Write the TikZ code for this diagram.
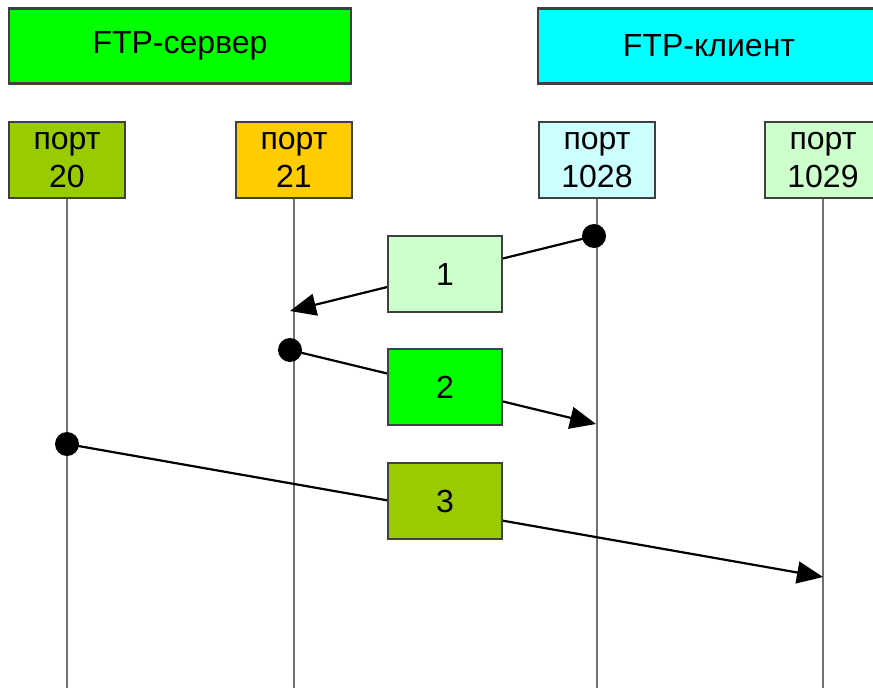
\documentclass[tikz,border=0pt]{standalone}
\usepackage{fontspec}
\setmainfont{Liberation Sans}
\usetikzlibrary{arrows.meta}
\definecolor{srvgreen}{HTML}{00FF00}
\definecolor{cliCyan}{HTML}{00FFFF}
\definecolor{olive}{HTML}{99CC00}
\definecolor{gold}{HTML}{FFCC00}
\definecolor{lcyan}{HTML}{CCFFFF}
\definecolor{lgreen}{HTML}{CCFFCC}
\definecolor{edge}{HTML}{404040}
\definecolor{life}{HTML}{707070}
\tikzset{
  boxbase/.style={draw=edge, line width=2.2pt, inner sep=0pt, align=center,
    font=\fontsize{32}{38}\selectfont},
  titlebox/.style={boxbase, minimum width=342pt, minimum height=75pt},
  portbox/.style={boxbase, minimum width=116pt, minimum height=76pt},
  msgbox/.style={boxbase, minimum width=114pt, minimum height=76pt},
  lifeline/.style={draw=life, line width=2.3pt},
  msg/.style={draw=black, line width=2.2pt, -{Triangle[length=26pt,width=22pt]}},
  dotmark/.style={fill=black}
}
\begin{document}
\begin{tikzpicture}[x=1pt,y=-1pt]
\useasboundingbox (0,0) rectangle (873,688);
\clip (0,0) rectangle (873,688);
\fill[white] (0,0) rectangle (873,688);
% title boxes
\node[titlebox, fill=srvgreen] (srv) at (180,46) {FTP-сервер};
\node[titlebox, fill=cliCyan] (cli) at (709,46) {FTP-клиент};
% ports
\node[portbox, fill=olive] (p20) at (67,160) {порт\\20};
\node[portbox, fill=gold] (p21) at (294,160) {порт\\21};
\node[portbox, fill=lcyan] (p1028) at (597,160) {порт\\1028};
\node[portbox, fill=lgreen] (p1029) at (823,160) {порт\\1029};
% lifeline ends
\coordinate (e20) at (67,690);
\coordinate (e21) at (294,690);
\coordinate (e1028) at (597,690);
\coordinate (e1029) at (823,690);
\draw[lifeline] (p20.south) -- (e20);
\draw[lifeline] (p21.south) -- (e21);
\draw[lifeline] (p1028.south) -- (e1028);
\draw[lifeline] (p1029.south) -- (e1029);
% message end points
\coordinate (s1) at (594,236);
\coordinate (t1) at (290,311);
\coordinate (s2) at (290,350);
\coordinate (t2) at (596,424);
\coordinate (s3) at (67,444);
\coordinate (t3) at (823,577);
\draw[msg] (s1) -- (t1);
\draw[msg] (s2) -- (t2);
\draw[msg] (s3) -- (t3);
\fill[dotmark] (s1) circle (12pt);
\fill[dotmark] (s2) circle (12pt);
\fill[dotmark] (s3) circle (12pt);
% message boxes
\node[msgbox, fill=lgreen] (m1) at (445,274) {1};
\node[msgbox, fill=srvgreen] (m2) at (445,387) {2};
\node[msgbox, fill=olive] (m3) at (445,501) {3};
\end{tikzpicture}
\end{document}
